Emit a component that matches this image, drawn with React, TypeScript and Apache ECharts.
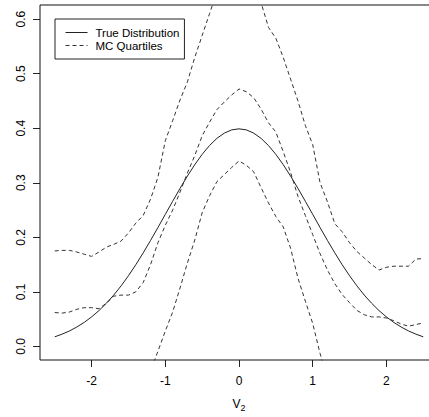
import React, { useEffect, useRef } from 'react';
import * as echarts from 'echarts';

const xs = [
  -2.5, -2.4, -2.3, -2.2, -2.1, -2.0, -1.9, -1.8, -1.7, -1.6, -1.5, -1.4, -1.3,
  -1.2, -1.1, -1.0, -0.9, -0.8, -0.7, -0.6, -0.5, -0.4, -0.3, -0.2, -0.1, 0,
  0.1, 0.2, 0.3, 0.4, 0.5, 0.6, 0.7, 0.8, 0.9, 1.0, 1.1, 1.2, 1.3, 1.4, 1.5,
  1.6, 1.7, 1.8, 1.9, 2.0, 2.1, 2.2, 2.3, 2.4, 2.5,
];

const trueDensity = [
  0.0175, 0.0224, 0.0283, 0.0355, 0.044, 0.054, 0.0656, 0.079, 0.094, 0.1109,
  0.1295, 0.1497, 0.1714, 0.1942, 0.2179, 0.242, 0.2661, 0.2897, 0.3123,
  0.3332, 0.3521, 0.3683, 0.3814, 0.391, 0.397, 0.3989, 0.397, 0.391, 0.3814,
  0.3683, 0.3521, 0.3332, 0.3123, 0.2897, 0.2661, 0.242, 0.2179, 0.1942,
  0.1714, 0.1497, 0.1295, 0.1109, 0.094, 0.079, 0.0656, 0.054, 0.044, 0.0355,
  0.0283, 0.0224, 0.0175,
];

const mcUpper = [
  0.175, 0.176, 0.176, 0.173, 0.169, 0.165, 0.173, 0.182, 0.187, 0.193, 0.208,
  0.226, 0.24, 0.27, 0.31, 0.377, 0.414, 0.452, 0.485, 0.53, 0.57, 0.61, 0.65,
  0.69, 0.72, 0.73, 0.72, 0.68, 0.63, 0.585, 0.565, 0.53, 0.49, 0.45, 0.405,
  0.37, 0.3, 0.265, 0.225, 0.21, 0.19, 0.174, 0.162, 0.15, 0.14, 0.145, 0.147,
  0.147, 0.147, 0.16, 0.161,
];

const mcMedian = [
  0.062, 0.061, 0.063, 0.068, 0.071, 0.071, 0.069, 0.079, 0.092, 0.094, 0.094,
  0.1, 0.117, 0.15, 0.19, 0.222, 0.25, 0.283, 0.318, 0.35, 0.386, 0.411, 0.434,
  0.448, 0.461, 0.472, 0.467, 0.456, 0.435, 0.41, 0.393, 0.357, 0.319, 0.275,
  0.24, 0.205, 0.17, 0.14, 0.115, 0.095, 0.08, 0.066, 0.058, 0.054, 0.054,
  0.052, 0.047, 0.041, 0.037, 0.04, 0.043,
];

const mcLower = [
  null, null, null, null, null, null, null, null, null, null, null, null,
  -0.09, -0.045, -0.009, 0.028, 0.063, 0.107, 0.153, 0.195, 0.245, 0.276,
  0.302, 0.315, 0.328, 0.34, 0.332, 0.32, 0.291, 0.263, 0.238, 0.219, 0.18,
  0.125, 0.083, 0.042, -0.013, -0.06, -0.1, null, null, null, null, null, null,
  null, null, null, null, null, null,
];

const xTicks = [-2, -1, 0, 1, 2];
const yTicks = [0, 0.1, 0.2, 0.3, 0.4, 0.5, 0.6];

const FONT = '"Liberation Sans", Arial, Helvetica, sans-serif';

export default function App() {
  const ref = useRef<HTMLDivElement>(null);
  useEffect(() => {
    const chart = echarts.init(ref.current!, null, { renderer: 'svg' });
    const pairs = (ys: (number | null)[]) =>
      xs.map((x, i) => [x, ys[i]]).filter((p) => p[1] !== null);
    const dashed = {
      type: 'line',
      name: 'MC Quartiles',
      symbol: 'none',
      silent: true,
      lineStyle: { color: '#333', width: 1, type: [4, 3] },
      itemStyle: { color: '#333' },
    };
    chart.setOption({
      animation: false,
      backgroundColor: '#fff',
      textStyle: { fontFamily: FONT },
      grid: {
        left: 40,
        top: 5,
        width: 398,
        height: 356,
        show: true,
        borderColor: '#111',
        borderWidth: 1,
        backgroundColor: 'transparent',
      },
      legend: {
        left: 55,
        top: 19,
        orient: 'vertical',
        padding: [7, 5, 7, 10],
        itemWidth: 22,
        itemHeight: 13,
        itemGap: 0,
        borderColor: '#222',
        borderWidth: 1,
        backgroundColor: '#fff',
        borderRadius: 0,
        selectedMode: false,
        itemStyle: { opacity: 0 },
        lineStyle: { width: 1 },
        textStyle: { fontSize: 11.5, color: '#000', fontFamily: FONT, lineHeight: 13, padding: [0, 0, 0, 3] },
        data: [{ name: 'True Distribution' }, { name: 'MC Quartiles' }],
      },
      xAxis: {
        type: 'value',
        min: -2.7,
        max: 2.7,
        axisLine: { show: false, onZero: false },
        splitLine: { show: false },
        axisTick: { show: true, customValues: xTicks, length: 7, lineStyle: { color: '#222' } },
        axisLabel: {
          customValues: xTicks,
          margin: 15,
          fontSize: 12,
          color: '#000',
          fontFamily: FONT,
          formatter: (v: number) => String(v),
        },
        name: '{v|V}{s|2}',
        nameLocation: 'middle',
        nameGap: 38,
        nameTextStyle: {
          rich: {
            v: { fontSize: 12, color: '#000', fontFamily: FONT, lineHeight: 12, verticalAlign: 'top' },
            s: { fontSize: 9, color: '#000', fontFamily: FONT, lineHeight: 9, verticalAlign: 'top', padding: [5, 0, 0, 0] },
          },
        },
      },
      yAxis: {
        type: 'value',
        min: -0.025,
        max: 0.626,
        axisLine: { show: false, onZero: false },
        splitLine: { show: false },
        axisTick: { show: true, customValues: yTicks, length: 7, lineStyle: { color: '#222' } },
        axisLabel: {
          customValues: yTicks,
          rotate: 90,
          margin: 13,
          fontSize: 12,
          color: '#000',
          fontFamily: FONT,
          formatter: (v: number) => v.toFixed(1),
        },
      },
      series: [
        {
          type: 'line',
          name: 'True Distribution',
          symbol: 'none',
          silent: true,
          z: 3,
          lineStyle: { color: '#222', width: 1 },
          itemStyle: { color: '#222' },
          data: pairs(trueDensity),
        },
        { ...dashed, data: pairs(mcUpper) },
        { ...dashed, data: pairs(mcMedian) },
        { ...dashed, data: pairs(mcLower) },
      ],
    });
    return () => chart.dispose();
  }, []);
  return (
    <div
      style={{
        position: 'fixed',
        left: 0,
        top: 0,
        width: 429,
        height: 417,
        overflow: 'hidden',
        background: '#fff',
      }}
    >
      <div ref={ref} style={{ width: 445, height: 417 }} />
    </div>
  );
}
